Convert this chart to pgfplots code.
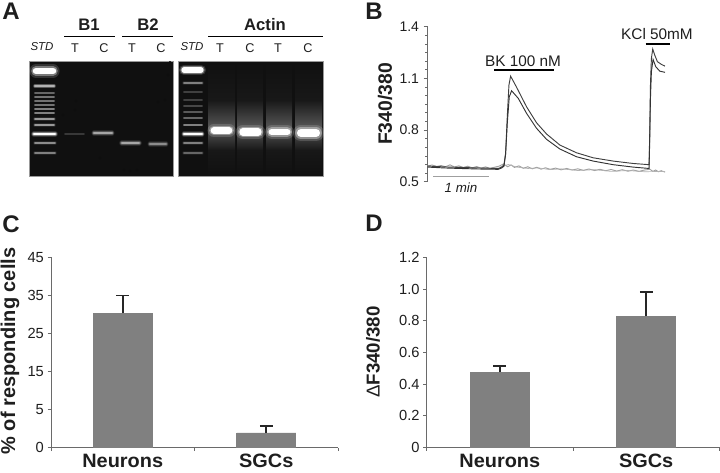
\documentclass[border=0pt]{standalone}
\usepackage{pgfplots}
\pgfplotsset{compat=1.18}
\usepackage{fontspec}
\setmainfont{Liberation Sans}
\definecolor{barg}{HTML}{808080}
\definecolor{axg}{HTML}{6A6A6A}
\definecolor{txt}{HTML}{1E1E1E}
\definecolor{err}{HTML}{262626}
\definecolor{gel}{HTML}{101010}
\definecolor{lane}{HTML}{181818}
\definecolor{smear}{HTML}{585858}
\newcommand\band[5]{%
 \addplot[draw=white!#5!black,opacity=.15,line width=#4*1.1pt,line cap=round] coordinates {(#1,#3)(#2,#3)};
 \addplot[draw=white!#5!black,opacity=.35,line width=#4*0.8pt,line cap=round] coordinates {(#1,#3)(#2,#3)};
 \addplot[draw=white!#5!black,line width=#4*0.55pt,line cap=round] coordinates {(#1,#3)(#2,#3)};}
\newcommand\shd[6]{\addplot[draw=none,top color=#5,bottom color=#6] coordinates {(#1,#3)(#2,#3)(#2,#4)(#1,#4)};}
\newcommand\rul[4][black]{\addplot[draw=#1,line width=1.3pt] coordinates {(#2,#4)(#3,#4)};}
\pgfplotsset{
 barax/.style={scale only axis,ybar,bar width=44.25pt,xmin=-.5,xmax=1.5,
  axis x line=bottom,axis y line=left,axis line style={-,draw=axg,line width=.7pt},
  tick align=outside,major tick length=2.6pt,tick style={draw=axg,line width=.6pt},
  xtick={-.5,.5,1.5},xticklabels={,,},
  extra x ticks={0,1},extra x tick labels={Neurons,SGCs},
  extra x tick style={major tick length=0pt,
    tick label style={font=\bfseries\fontsize{14.5}{15}\selectfont,xscale=1.03,text=txt,yshift=-1.5pt}},
  yticklabel style={font=\fontsize{11}{12}\selectfont,text=txt,xshift=.8pt},
  /pgf/number format/assume math mode=true,
  every axis plot post/.append style={draw=barg,fill=barg,
   error bars/y dir=plus,error bars/y explicit,
   error bars/error bar style={draw=err,line width=1.2pt},
   error bars/error mark options={draw=err,rotate=90,mark size=4.8pt,line width=1.2pt}}},
}
\begin{document}
\begin{tikzpicture}
\path[use as bounding box] (0,0) rectangle (540pt,354pt);

% Panel C: the reference's axis is evenly spaced at 0,5,15,25,35,45,
% so the axis runs over tick places 0..5 and y filter maps the values onto them.
% Error sizes are in tick places: 4.7 -> 0.47, 0.9 -> 0.18.
\begin{axis}[barax,at={(38.25pt,18.2pt)},anchor=south west,width=215.25pt,height=142.8pt,
  ymin=0,ymax=5,ytick={0,1,2,3,4,5},yticklabels={0,5,15,25,35,45}]
\addplot+[y filter/.code={\pgfmathparse{(#1)<5 ? (#1)/5 : 1+((#1)-5)/10}}]
  coordinates {(0,30.3) +- (0,0.47) (1,1.95) +- (0,0.18)};
\end{axis}

% Panel D
\begin{axis}[barax,at={(320pt,18.5pt)},anchor=south west,width=219.5pt,height=142.5pt,
  ymin=0,ymax=1.2,ytick={0,0.2,0.4,0.6,0.8,1.0,1.2},yticklabels={0,0.2,0.4,0.6,0.8,1.0,1.2}]
\addplot coordinates {(0,0.474) +- (0,0.038) (1,0.827) +- (0,0.154)};
\end{axis}

% Panel B
\begin{axis}[scale only axis,at={(320.8pt,217.7pt)},anchor=south west,width=178pt,height=116.3pt,
  xmin=0,xmax=4.27,ymin=0.5,ymax=1.4,axis x line=none,axis y line=left,
  axis line style={-,draw=axg,line width=.7pt},clip=false,
  tick align=outside,ytick={0.5,0.8,1.1,1.4},yticklabels={0.5,0.8,1.1,1.4},
  minor ytick={0.55,0.6,0.65,0.7,0.75,0.85,0.9,0.95,1.0,1.05,1.15,1.2,1.25,1.3,1.35},
  major tick length=3pt,minor tick length=2pt,tick style={draw=axg,line width=.5pt},
  yticklabel style={font=\fontsize{10.5}{12}\selectfont,text=txt},
  /pgf/number format/assume math mode=true,no markers]
\addplot[draw=gray!75,line width=.7pt] coordinates {
(0,.592)(.08,.597)(.16,.589)(.24,.594)(.32,.587)(.4,.598)(.48,.586)(.56,.592)(.64,.583)(.72,.59)(.8,.581)(.88,.588)(.96,.579)(1.04,.586)(1.12,.578)(1.2,.584)(1.28,.59)(1.36,.603)(1.44,.587)(1.5,.598)(1.56,.583)(1.64,.592)(1.72,.578)(1.8,.587)(1.88,.575)(1.96,.584)(2.04,.573)(2.12,.581)(2.2,.572)(2.3,.579)(2.4,.569)(2.5,.577)(2.6,.568)(2.7,.575)(2.8,.566)(2.9,.574)(3.0,.565)(3.1,.572)(3.2,.564)(3.3,.571)(3.4,.562)(3.5,.57)(3.6,.561)(3.7,.568)(3.8,.56)(3.9,.568)(4.0,.572)(4.05,.56)(4.1,.568)(4.15,.558)(4.2,.564)(4.27,.556)};
\addplot[draw=gray!60,line width=.5pt] coordinates {
(1.3,.585)(1.45,.6)(1.6,.585)(1.8,.577)(2.0,.58)(2.2,.57)(2.4,.575)(2.7,.565)(3.0,.57)(3.3,.56)(3.6,.565)(3.9,.558)(4.27,.56)};
\addplot[draw=black!75,line width=.7pt] coordinates {
(0,.591)(.3,.586)(.581,.583)(.9,.58)(1.269,.577)(1.33,.585)(1.371,.597)(1.401,.664)(1.431,.877)(1.461,1.061)(1.491,1.113)(1.599,1.048)(1.778,.935)(1.958,.842)(2.138,.777)(2.377,.713)(2.677,.668)(2.976,.639)(3.335,.62)(3.695,.606)(3.982,.599)(3.994,.781)(4.006,1.051)(4.024,1.216)(4.048,1.27)(4.084,1.235)(4.132,1.197)(4.204,1.181)(4.269,1.171)};
\addplot[draw=black!80,line width=.7pt] coordinates {
(0,.585)(.3,.58)(.581,.577)(.9,.574)(1.269,.572)(1.33,.58)(1.371,.59)(1.401,.66)(1.431,.839)(1.467,.993)(1.509,1.028)(1.629,.984)(1.778,.897)(1.958,.81)(2.138,.746)(2.377,.69)(2.677,.645)(2.976,.62)(3.335,.599)(3.695,.585)(3.982,.577)(3.994,.742)(4.006,.974)(4.024,1.139)(4.054,1.21)(4.102,1.168)(4.174,1.142)(4.269,1.135)};
\end{axis}

% Overlay in pixel units: panel A gels and all labels
\begin{axis}[scale only axis,at={(0,0)},anchor=south west,width=540pt,height=354pt,
  xmin=0,xmax=720,ymin=0,ymax=472,y dir=reverse,hide axis,clip=false,no markers]
% gels
\addplot[fill=gel,draw=gray!80!white,line width=.7pt] coordinates {(29,61)(173,61)(173,176)(29,176)(29,61)};
\addplot[fill=gel,draw=gray!80!white,line width=.7pt] coordinates {(178,61)(323,61)(323,176)(178,176)(178,61)};
% lanes gel 2
\shd{208}{235}{62}{100}{gel}{lane}
\shd{237}{263}{62}{100}{gel}{lane}
\shd{266}{292}{62}{100}{gel}{lane}
\shd{295}{322}{62}{100}{gel}{lane}
\shd{208}{235}{100}{128}{lane}{smear}
\shd{237}{263}{100}{128}{lane}{smear}
\shd{266}{292}{100}{128}{lane}{smear}
\shd{295}{322}{100}{128}{lane}{smear}
\shd{208}{235}{128}{150}{smear}{lane}
\shd{237}{263}{128}{150}{smear}{lane}
\shd{266}{292}{128}{150}{smear}{lane}
\shd{295}{322}{128}{150}{smear}{lane}
\shd{208}{235}{150}{175}{lane}{gel}
\shd{237}{263}{150}{175}{lane}{gel}
\shd{266}{292}{150}{175}{lane}{gel}
\shd{295}{322}{150}{175}{lane}{gel}
% specks gel 1
\addplot[only marks,mark=*,mark size=.5pt,mark options={draw=none,fill=gray!55}] coordinates {
(63,115)(75,110)(76,101)(158,102)(168,75)(170,62)(165,100)(100,158)(124,170)(130,171)(137,170)};
% ladder gel 1
\band{36}{53}{71}{9}{100}
\band{35}{54}{86}{3}{70}
\band{35}{54}{93}{2}{40}
\band{35}{54}{97}{2}{45}
\band{35}{54}{101}{2}{45}
\band{35}{54}{105}{2}{45}
\band{35}{54}{109}{2}{50}
\band{35}{54}{113}{2}{50}
\band{35}{54}{119}{2.5}{60}
\band{35}{54}{125}{2.5}{60}
\band{34}{55}{134}{4}{100}
\band{35}{55}{143}{2.5}{55}
\band{35}{55}{153}{2.5}{50}
% samples gel 1
\band{65}{84}{134}{1.5}{22}
\band{94}{112}{133}{3.5}{65}
\band{122}{139}{143}{4}{65}
\band{150}{166}{144}{3.5}{55}
% ladder gel 2
\band{184}{201}{70}{7}{100}
\band{184}{202}{83}{2.5}{50}
\band{184}{202}{92}{2}{25}
\band{184}{202}{100}{2}{25}
\band{184}{202}{106}{2}{28}
\band{184}{202}{112}{2}{35}
\band{184}{202}{118}{2}{40}
\band{184}{202}{125}{2}{50}
\band{184}{202}{134}{3.5}{100}
\band{184}{202}{143}{2.5}{50}
\band{184}{202}{153}{2.5}{40}
% bands gel 2
\band{214}{229}{130.5}{9}{100}
\band{243}{258}{132}{10}{100}
\band{272}{287}{132}{9.5}{100}
\band{301}{316}{133}{11}{100}
% rules
\rul{64}{115}{36.5}
\rul{122}{173}{36.5}
\rul{208}{323}{36.5}
\rul{494}{554}{70}
\rul{645.5}{670}{44}
\addplot[draw=gray!75,line width=1pt] coordinates {(433,176.7)(489,176.7)};
% text
\tikzset{lab/.style={text=txt,inner sep=0pt,anchor=center}}
\node[lab,font=\bfseries\fontsize{18}{18}\selectfont] at (axis cs:11,11) {A};
\node[lab,font=\bfseries\fontsize{18}{18}\selectfont] at (axis cs:374,11) {B};
\node[lab,font=\bfseries\fontsize{18}{18}\selectfont] at (axis cs:11,224) {C};
\node[lab,font=\bfseries\fontsize{18}{18}\selectfont] at (axis cs:374,223) {D};
\node[lab,font=\bfseries\fontsize{12.5}{13}\selectfont] at (axis cs:89,25) {B1};
\node[lab,font=\bfseries\fontsize{12.5}{13}\selectfont] at (axis cs:148,25) {B2};
\node[lab,font=\bfseries\fontsize{12.5}{13}\selectfont] at (axis cs:265,25) {Actin};
\node[lab,font=\itshape\fontsize{8.6}{10}\selectfont] at (axis cs:42,47) {STD};
\node[lab,font=\itshape\fontsize{8.6}{10}\selectfont] at (axis cs:192,47) {STD};
\node[lab,font=\fontsize{9.5}{10}\selectfont] at (axis cs:75,48) {T};
\node[lab,font=\fontsize{9.5}{10}\selectfont] at (axis cs:104,48) {C};
\node[lab,font=\fontsize{9.5}{10}\selectfont] at (axis cs:132,48) {T};
\node[lab,font=\fontsize{9.5}{10}\selectfont] at (axis cs:161,48) {C};
\node[lab,font=\fontsize{9.5}{10}\selectfont] at (axis cs:220,48) {T};
\node[lab,font=\fontsize{9.5}{10}\selectfont] at (axis cs:250,48) {C};
\node[lab,font=\fontsize{9.5}{10}\selectfont] at (axis cs:278,48) {T};
\node[lab,font=\fontsize{9.5}{10}\selectfont] at (axis cs:308,48) {C};
\node[lab,font=\fontsize{11.5}{12}\selectfont] at (axis cs:523,61) {BK 100 nM};
\node[lab,font=\fontsize{11.5}{12}\selectfont] at (axis cs:657,34) {KCl 50mM};
\node[lab,font=\itshape\fontsize{10}{11}\selectfont] at (axis cs:461,188) {1 min};
\node[lab,font=\bfseries\fontsize{14.5}{15}\selectfont,rotate=90] at (axis cs:385,104) {F340/380};
\node[lab,font=\bfseries\fontsize{15}{15}\selectfont,rotate=90] at (axis cs:10,351) {\% of responding cells};
\node[lab,font=\bfseries\fontsize{14}{15}\selectfont,rotate=90] at (axis cs:373,352) {{\mdseries Δ}F340/380};
\end{axis}
\end{tikzpicture}
\end{document}
